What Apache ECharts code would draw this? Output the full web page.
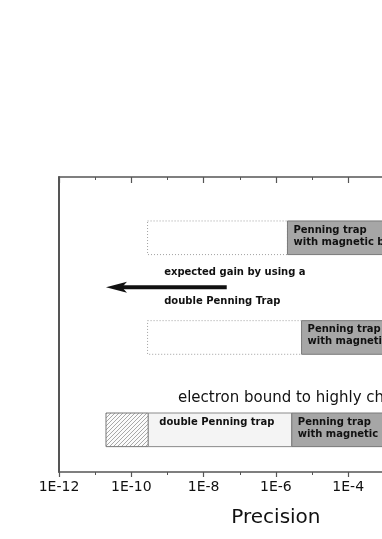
<!DOCTYPE html>
<html><head><meta charset="utf-8">
<script src="https://cdn.jsdelivr.net/npm/echarts@6/dist/echarts.min.js"></script>
<style>html,body{margin:0;padding:0;background:#fff}#c{width:382px;height:539px}</style>
</head><body><div id="c"></div>
<script>
// x values are log10(precision)
const tickLabels = ['1E-12','1E-10','1E-8','1E-6','1E-4','1E-2','1E0'];
const rowCenters = [7.94, 4.56, 1.43];
const rowHalf = 0.57;
const segRow   = [0, 0, 1, 1, 2, 2, 2];
const segStart = [-9.55, -5.68, -9.55, -5.29, -10.70, -9.53, -5.56];
const segEnd   = [-5.68, -2.0, -5.29, -2.0, -9.53, -5.56, -2.0];
const segKind  = ['dotted','gray','dotted','gray','hatch','light','gray'];
const segText  = ['', 'Penning trap\nwith magnetic bottle', '', 'Penning trap\nwith magnetic bottle', '', 'double Penning trap', 'Penning trap\nwith magnetic bottle'];
const noteText = ['expected gain by using a', 'double Penning Trap', 'electron bound to highly charged ion'];
const noteX = [-9.09, -9.09, -8.71];
const noteY = [6.76, 5.77, 2.50];
const arrowFrom = [-7.36, 6.26];
const arrowTo = [-10.70, 6.26];

const hatch = document.createElement('canvas');
hatch.width = 4; hatch.height = 4;
(function(){
  const g = hatch.getContext('2d');
  g.fillStyle = '#fbfbfb'; g.fillRect(0,0,4,4);
  g.strokeStyle = '#a8a8a8'; g.lineWidth = 1;
  g.beginPath();
  g.moveTo(-1,5); g.lineTo(5,-1);
  g.moveTo(-1,1); g.lineTo(1,-1);
  g.moveTo(3,5); g.lineTo(5,3);
  g.stroke();
})();

const segData = segStart.map((s,i)=>[s, segEnd[i], rowCenters[segRow[i]]]);

const chart = echarts.init(document.getElementById('c'), null, {renderer:'canvas'});
const axisCommon = {
  type:'value', min:-12, max:0, interval:2,
  axisLine:{show:true, onZero:false, lineStyle:{color:'#555', width:1.5}},
  splitLine:{show:false},
  minorTick:{show:true, splitNumber:2, length:3, lineStyle:{color:'#555', width:1}},
  minorSplitLine:{show:false}
};
chart.setOption({
  animation:false,
  grid:{left:59, top:177, width:433.8, height:295, containLabel:false, outerBoundsMode:'none'},
  xAxis:[
    Object.assign({}, axisCommon, {
      position:'bottom',
      axisTick:{show:true, inside:false, length:5, lineStyle:{color:'#555', width:1.2}},
      axisLabel:{show:true, margin:8, color:'#111', fontSize:14, fontFamily:'DejaVu Sans',
        formatter:v=>tickLabels[Math.round((v+12)/2)]},
      name:'Precision', nameLocation:'middle', nameGap:36,
      nameTextStyle:{fontSize:20, color:'#111', fontFamily:'DejaVu Sans'}
    }),
    Object.assign({}, axisCommon, {
      position:'top',
      axisTick:{show:true, inside:true, length:6, lineStyle:{color:'#555', width:1.2}},
      minorTick:{show:true, splitNumber:2, length:3, lineStyle:{color:'#555', width:1}},
      axisLabel:{show:false}
    })
  ],
  yAxis:{type:'value', min:0, max:10, position:'left',
    axisLine:{show:true, onZero:false, lineStyle:{color:'#555', width:2}},
    axisTick:{show:false}, axisLabel:{show:false}, splitLine:{show:false}},
  series:[
    {
      type:'custom', clip:false, data:segData,
      renderItem:(params, api)=>{
        const i = params.dataIndex;
        const p0 = api.coord([api.value(0), api.value(2)+rowHalf]);
        const p1 = api.coord([api.value(1), api.value(2)-rowHalf]);
        const kind = segKind[i];
        let style;
        if (kind==='dotted') style = {fill:'#fff', stroke:'#a0a0a0', lineWidth:1, lineDash:[1,2]};
        else if (kind==='gray') style = {fill:'#a6a6a6', stroke:'#7a7a7a', lineWidth:1};
        else if (kind==='light') style = {fill:'#f4f4f4', stroke:'#8a8a8a', lineWidth:1};
        else style = {fill:{image:hatch, repeat:'repeat'}, stroke:'#777', lineWidth:1};
        const children = [{type:'rect', shape:{x:p0[0], y:p0[1], width:p1[0]-p0[0], height:p1[1]-p0[1]}, style:style}];
        if (segText[i]) {
          children.push({type:'text', style:{text:segText[i], x:p0[0]+(kind==='light'?11:6), y:p0[1]+3,
            font:'bold 10px "DejaVu Sans"', fill:'#111', lineHeight:12, verticalAlign:'top', align:'left'}});
        }
        return {type:'group', children:children};
      }
    },
    {
      type:'custom', clip:false, data:noteX.map((x,i)=>[x, noteY[i]]),
      renderItem:(params, api)=>{
        const i = params.dataIndex;
        const p = api.coord([api.value(0), api.value(1)]);
        const big = i===2;
        return {type:'text', style:{text:noteText[i], x:p[0], y:p[1], verticalAlign:'middle', align:'left',
          font:(big?'15px':'bold 10px')+' "DejaVu Sans"', fill:'#111'}};
      }
    },
    {
      type:'custom', clip:false, data:[[arrowFrom[0], arrowFrom[1], arrowTo[0], arrowTo[1]]],
      renderItem:(params, api)=>{
        const a = api.coord([api.value(0), api.value(1)]);
        const b = api.coord([api.value(2), api.value(3)]);
        return {type:'group', children:[
          {type:'line', shape:{x1:a[0], y1:a[1], x2:b[0]+14, y2:b[1]}, style:{stroke:'#111', lineWidth:4}},
          {type:'polygon', shape:{points:[[b[0], b[1]], [b[0]+21, b[1]-5.5], [b[0]+16, b[1]], [b[0]+21, b[1]+5.5]]}, style:{fill:'#111'}}
        ]};
      }
    }
  ]
});
</script></body></html>
